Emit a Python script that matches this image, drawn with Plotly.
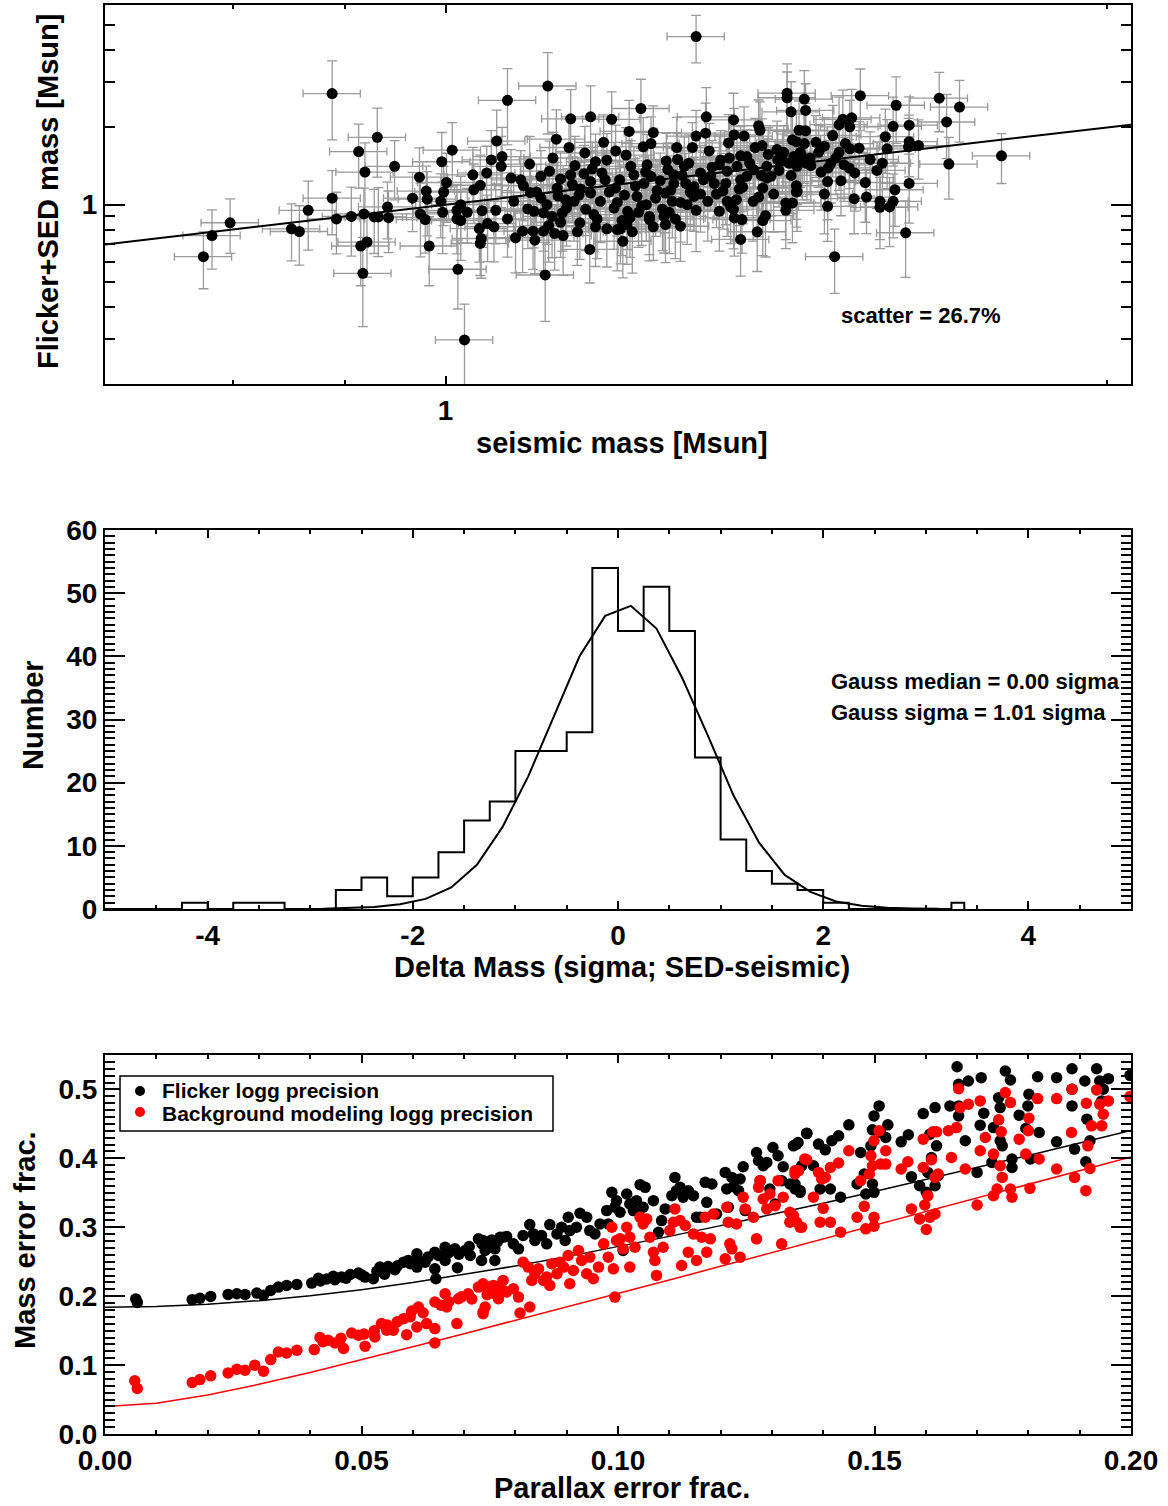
import numpy as np
import plotly.graph_objects as go

# ---------------- top panel: SED mass vs seismic mass ----------------
seismic_mass = [
    0.888, 0.931, 0.913, 0.919, 0.948, 0.888, 0.866, 0.892, 0.906, 0.918,
    0.928, 0.932, 0.941, 0.942, 0.851, 0.858, 0.798, 0.783, 0.776, 0.915,
    0.921, 0.917, 1.020, 0.966, 0.973, 0.980, 0.981, 0.974, 0.979, 0.983,
    0.996, 1.007, 1.001, 0.998, 0.995, 0.997, 1.012, 1.016, 1.012, 1.016,
    1.023, 1.013, 1.029, 1.030, 1.037, 1.044, 1.049, 1.055, 1.039, 1.036,
    1.038, 1.037, 1.045, 1.052, 1.054, 1.300, 1.113, 1.067, 1.140, 1.164,
    1.190, 1.227, 1.314, 1.352, 1.430, 1.430, 1.456, 1.436, 1.458, 1.388,
    1.390, 1.212, 1.243, 1.123, 1.180, 1.313, 1.300, 1.353, 1.367, 1.345,
    1.195, 1.208, 1.230, 1.240, 1.274, 1.295, 1.318, 1.383, 1.393, 1.415,
    1.438, 1.448, 1.458, 1.440, 1.061, 1.060, 1.092, 1.119, 1.138, 1.157,
    1.145, 1.170, 1.184, 1.115, 1.105, 1.071, 1.082, 1.085, 1.128, 1.140,
    1.156, 1.164, 1.178, 1.182, 1.195, 1.214, 1.218, 1.235, 1.231, 1.240,
    1.260, 1.275, 1.284, 1.290, 1.270, 1.286, 1.306, 1.320, 1.334, 1.343,
    1.357, 1.371, 1.362, 1.400, 1.406, 1.423, 1.445, 1.460, 1.394, 1.388,
    1.444, 1.445, 1.428, 1.428, 1.398, 1.394, 1.386, 1.362, 1.364, 1.353,
    1.343, 1.356, 1.348, 1.332, 1.328, 1.306, 1.297, 1.279, 1.268, 1.264,
    1.288, 1.279, 1.259, 1.243, 1.238, 1.234, 1.248, 1.224, 1.210, 1.222,
    1.197, 1.209, 1.216, 1.204, 1.201, 1.184, 1.170, 1.163, 1.168, 1.176,
    1.164, 1.152, 1.144, 1.151, 1.148, 1.134, 1.130, 1.128, 1.131, 1.121,
    1.108, 1.114, 1.098, 1.096, 1.084, 1.076, 1.110, 1.108, 1.097, 1.090,
    1.074, 1.067, 1.093, 1.105, 1.124, 1.197, 1.203, 1.238, 1.257, 1.259,
    1.270, 1.297, 1.325, 1.332, 1.341, 1.371, 1.360, 1.362, 1.381, 1.400,
    1.416, 1.433, 1.453, 1.544, 1.603, 1.677, 1.713, 1.690, 1.598, 1.625,
    1.585, 1.588, 1.625, 1.624, 1.641, 1.790, 1.694, 1.625, 1.601, 1.571,
    1.552, 1.554, 1.534, 1.576, 1.576, 1.592, 1.598, 1.619, 1.503, 1.513,
    1.492, 1.493, 1.487, 1.492, 1.510, 1.520, 1.527, 1.542, 1.500, 1.487,
    1.510, 1.516, 1.527, 1.530, 1.444, 1.456, 1.474, 1.453, 1.466, 1.497,
    1.518, 1.526, 1.444, 1.438,
    1.100, 1.112, 1.118, 1.125, 1.135, 1.142, 1.150, 1.158, 1.166, 1.172,
    1.187, 1.193, 1.200, 1.206, 1.213, 1.220, 1.228, 1.233, 1.246, 1.252,
    1.255, 1.262, 1.266, 1.272, 1.281, 1.292, 1.300, 1.310, 1.316, 1.322,
    1.337, 1.346, 1.352, 1.365, 1.375, 1.380, 1.392, 1.402, 1.410, 1.418,
    1.425, 1.436, 1.450, 1.465, 1.478, 1.482, 1.505, 1.535, 1.560, 1.580,
]
sed_mass = [
    2.71, 1.83, 1.61, 1.34, 1.41, 1.06, 0.95, 0.88, 0.90, 0.92,
    0.896, 0.896, 0.98, 0.89, 0.805, 0.786, 0.85, 0.758, 0.627, 0.69,
    0.715, 0.54, 0.297, 1.06, 1.28, 1.13, 1.05, 0.92, 0.875, 0.69,
    1.47, 1.63, 1.22, 1.12, 1.03, 0.934, 0.95, 1.0, 0.88, 0.867,
    0.934, 0.56, 1.307, 1.143, 1.19, 1.33, 1.494, 1.77, 0.947, 0.807,
    0.738, 0.706, 0.844, 0.82, 0.95, 4.52, 2.9, 2.55, 2.16, 2.2,
    2.15, 2.37, 2.2, 2.14, 2.72, 2.61, 2.58, 2.3, 2.33, 2.03,
    1.95, 1.93, 1.91, 1.8, 1.75, 1.9, 1.85, 1.87, 1.85, 1.74,
    1.62, 1.56, 1.68, 1.73, 1.67, 1.67, 1.62, 1.67, 1.70, 1.64,
    1.79, 1.95, 1.94, 1.54, 1.54, 1.41, 1.44, 1.52, 1.67, 1.59,
    1.42, 1.47, 1.49, 1.35, 1.29, 1.27, 1.25, 1.185, 1.26, 1.307,
    1.32, 1.23, 1.33, 1.25, 1.16, 1.41, 1.307, 1.43, 1.21, 1.29,
    1.48, 1.50, 1.41, 1.45, 1.307, 1.21, 1.33, 1.29, 1.494, 1.35,
    1.41, 1.54, 1.25, 1.41, 1.29, 1.494, 1.41, 1.45, 1.16, 1.07,
    1.185, 1.125, 1.015, 0.95, 0.906, 0.867, 0.784, 0.732, 0.875, 0.888,
    1.03, 1.046, 0.98, 0.942, 1.10, 1.10, 1.077, 1.02, 1.03, 0.934,
    1.0, 0.824, 0.837, 0.82, 0.875, 1.0, 1.136, 0.934, 0.942, 1.077,
    1.02, 0.837, 0.784, 0.72, 0.805, 0.805, 0.82, 0.669, 0.915, 1.03,
    1.11, 1.15, 1.03, 0.85, 0.784, 1.046, 0.928, 0.854, 0.758, 0.772,
    0.788, 0.829, 0.727, 0.788, 0.788, 0.743, 0.532, 0.928, 0.942, 0.962,
    1.03, 0.88, 1.115, 1.06, 1.16, 0.80, 0.867, 0.90, 0.90, 1.11,
    1.21, 1.177, 1.21, 1.43, 1.21, 1.29, 1.15, 1.55, 1.367, 1.27,
    1.494, 1.45, 1.54, 2.66, 2.44, 2.60, 2.40, 2.10, 2.02, 2.04,
    1.84, 1.65, 1.76, 1.68, 1.70, 1.55, 1.44, 1.21, 1.143, 1.36,
    1.22, 1.07, 1.055, 1.03, 0.976, 0.98, 1.03, 0.777, 0.627, 1.24,
    1.23, 1.39, 1.10, 0.985, 1.60, 1.73, 1.65, 1.66, 1.86, 1.69,
    2.05, 2.15, 2.01, 2.18, 1.76, 1.73, 1.75, 1.47, 1.42, 1.45,
    1.43, 1.39, 1.12, 1.015,
    1.12, 1.00, 0.90, 1.08, 0.97, 1.20, 1.09, 0.96, 1.38, 0.88,
    1.12, 0.97, 1.25, 1.09, 0.89, 1.18, 0.99, 1.34, 1.06, 1.24,
    0.96, 1.37, 1.14, 0.88, 1.30, 1.12, 0.95, 1.25, 1.03, 1.40,
    1.13, 1.52, 0.96, 1.17, 1.45, 1.03, 1.30, 1.57, 1.10, 1.36,
    1.60, 1.30, 1.60, 1.52, 1.60, 1.34, 1.52, 1.33, 1.50, 1.45,
]
sed_err_frac = [
    0.34, 0.30, 0.28, 0.30, 0.26, 0.28, 0.30, 0.27, 0.30, 0.26,
    0.28, 0.30, 0.25, 0.27, 0.25, 0.26, 0.24, 0.26, 0.25, 0.30,
    0.27, 0.38, 0.38, 0.26, 0.30, 0.25, 0.28, 0.32, 0.26, 0.30,
    0.30, 0.28, 0.30, 0.26, 0.28, 0.31, 0.26, 0.29, 0.27, 0.30,
    0.24, 0.30, 0.28, 0.26, 0.31, 0.27, 0.30, 0.32, 0.28, 0.26,
    0.30, 0.25, 0.29, 0.27, 0.26, 0.21, 0.35, 0.33, 0.30, 0.32,
    0.28, 0.30, 0.30, 0.27, 0.30, 0.26, 0.29, 0.31, 0.27, 0.26,
    0.29, 0.32, 0.27, 0.30, 0.28, 0.31, 0.26, 0.27, 0.30, 0.29,
    0.26, 0.28, 0.30, 0.27, 0.31, 0.25, 0.28, 0.30, 0.27, 0.29,
    0.27, 0.30, 0.28, 0.26, 0.30, 0.31, 0.28, 0.26, 0.29, 0.27,
    0.30, 0.28, 0.27, 0.31, 0.26, 0.29, 0.30, 0.27, 0.28, 0.26,
    0.29, 0.31, 0.27, 0.30, 0.28, 0.26, 0.29, 0.31, 0.27, 0.30,
    0.28, 0.26, 0.30, 0.29, 0.27, 0.31, 0.28, 0.26, 0.30, 0.27,
    0.29, 0.27, 0.31, 0.28, 0.30, 0.26, 0.29, 0.28, 0.27, 0.30,
    0.26, 0.30, 0.28, 0.29, 0.31, 0.27, 0.30, 0.28, 0.26, 0.29,
    0.27, 0.31, 0.28, 0.30, 0.26, 0.29, 0.27, 0.30, 0.28, 0.31,
    0.30, 0.27, 0.29, 0.26, 0.31, 0.28, 0.30, 0.27, 0.29, 0.28,
    0.26, 0.30, 0.31, 0.28, 0.27, 0.29, 0.30, 0.26, 0.28, 0.31,
    0.29, 0.27, 0.30, 0.28, 0.26, 0.31, 0.29, 0.27, 0.30, 0.28,
    0.30, 0.28, 0.26, 0.29, 0.31, 0.27, 0.34, 0.29, 0.28, 0.30,
    0.27, 0.29, 0.30, 0.28, 0.26, 0.31, 0.27, 0.29, 0.28, 0.30,
    0.28, 0.30, 0.27, 0.29, 0.31, 0.26, 0.28, 0.30, 0.27, 0.29,
    0.29, 0.28, 0.30, 0.27, 0.29, 0.26, 0.27, 0.28, 0.30, 0.29,
    0.28, 0.30, 0.27, 0.29, 0.26, 0.22, 0.27, 0.30, 0.28, 0.29,
    0.30, 0.28, 0.27, 0.29, 0.31, 0.30, 0.28, 0.33, 0.28, 0.27,
    0.29, 0.28, 0.30, 0.27, 0.29, 0.28, 0.30, 0.27, 0.31, 0.29,
    0.28, 0.30, 0.27, 0.29, 0.28, 0.30, 0.27, 0.29, 0.28, 0.30,
    0.28, 0.29, 0.27, 0.30,
    0.28, 0.30, 0.31, 0.27, 0.29, 0.28, 0.30, 0.31, 0.27, 0.30,
    0.29, 0.31, 0.27, 0.28, 0.30, 0.28, 0.30, 0.27, 0.29, 0.28,
    0.31, 0.27, 0.29, 0.30, 0.28, 0.29, 0.31, 0.28, 0.30, 0.27,
    0.29, 0.27, 0.30, 0.28, 0.27, 0.30, 0.28, 0.27, 0.29, 0.28,
    0.27, 0.29, 0.27, 0.28, 0.27, 0.29, 0.28, 0.29, 0.28, 0.28,
]
seismic_err_frac = 0.03
one_to_one = [0.7, 2.05]

# ---------------- middle panel: histogram of Delta mass ----------------
hist_lo = [-4.25, -4.0, -3.75, -3.5, -3.25, -3.0, -2.75, -2.5, -2.25, -2.0,
           -1.75, -1.5, -1.25, -1.0, -0.75, -0.5, -0.25, 0.0, 0.25, 0.5,
           0.75, 1.0, 1.25, 1.5, 1.75, 2.0, 2.25, 2.5, 2.75, 3.0, 3.25]
hist_counts = [1, 0, 1, 1, 0, 0, 3, 5, 2, 5,
               9, 14, 17, 25, 25, 28, 54, 44, 51, 44,
               24, 11, 6, 4, 3, 1, 0, 0, 0, 0, 1]
hist_width = 0.25
gauss_x = [-2.875, -2.625, -2.375, -2.125, -1.875, -1.625, -1.375, -1.125, -0.875,
           -0.625, -0.375, -0.125, 0.125, 0.375, 0.625, 0.875, 1.125, 1.375,
           1.625, 1.875, 2.125, 2.375, 2.625, 2.875, 3.125]
gauss_y = [0.05, 0.12, 0.3, 0.75, 1.6, 3.4, 7.0, 13.0, 21.0,
           30.5, 40.0, 46.4, 48.0, 44.4, 36.6, 27.5, 18.0, 10.5,
           5.4, 2.7, 1.2, 0.5, 0.2, 0.07, 0.02]
delta_ticks = [-4, -2, 0, 2, 4]
delta_ticktext = ["-4", "-2", "0", "2", "4"]

# ---------------- bottom panel: mass error vs parallax error ----------------
flicker_plx = [
    0.0060, 0.0063, 0.0170, 0.0185, 0.0206, 0.0240, 0.0257, 0.0273, 0.0296, 0.0309,
    0.0323, 0.0338, 0.0354, 0.0374, 0.0403, 0.0416, 0.0432, 0.0448, 0.0461, 0.0478,
    0.0494, 0.0507, 0.0523, 0.0536, 0.0552, 0.0565, 0.0582, 0.0591, 0.0608, 0.0608,
    0.0624, 0.0643, 0.0643, 0.0645, 0.0663, 0.0663, 0.0682, 0.0687, 0.0702, 0.0712,
    0.0728, 0.0741, 0.0754, 0.0760, 0.0776,
    0.0420, 0.0445, 0.0470, 0.0500, 0.0530, 0.0545, 0.0570, 0.0595, 0.0610, 0.0630,
    0.0650, 0.0670, 0.0690, 0.0710, 0.0735, 0.0750, 0.0765,
    0.0737, 0.0747, 0.0734, 0.0760, 0.0770, 0.0783, 0.0796, 0.0806, 0.0815, 0.0828,
    0.0835, 0.0838, 0.0851, 0.0861, 0.0867, 0.0881, 0.0890, 0.0897, 0.0903, 0.0906,
    0.0919, 0.0926, 0.0939, 0.0945, 0.0955, 0.0965, 0.0978, 0.0981, 0.0988, 0.0994,
    0.0997, 0.1004, 0.1010, 0.1017, 0.1023, 0.1030, 0.1036, 0.1049, 0.1043, 0.1053,
    0.1069, 0.1079, 0.1085, 0.1092, 0.1105, 0.1111, 0.1114, 0.1121, 0.1127, 0.1137,
    0.1147, 0.1153, 0.1160, 0.1170, 0.1173, 0.1183, 0.1192, 0.1209, 0.1212, 0.1215,
    0.1222, 0.1225, 0.1235, 0.1238, 0.1244, 0.1248, 0.1270, 0.1274, 0.1277, 0.1283,
    0.1290, 0.1296, 0.1302, 0.1306, 0.1312, 0.1319, 0.1322, 0.1342, 0.1345, 0.1351,
    0.1355, 0.1368, 0.1358,
    0.1335, 0.1345, 0.1355, 0.1348, 0.1368, 0.1381, 0.1394, 0.1391, 0.1404, 0.1414,
    0.1417, 0.1430, 0.1434, 0.1450, 0.1466, 0.1473, 0.1483, 0.1480, 0.1493, 0.1496,
    0.1499, 0.1496, 0.1499, 0.1509, 0.1512, 0.1522, 0.1526, 0.1552, 0.1566, 0.1572,
    0.1588, 0.1595, 0.1601, 0.1604, 0.1608, 0.1611, 0.1618, 0.1621, 0.1624, 0.1618,
    0.1647, 0.1661, 0.1664, 0.1664, 0.1664, 0.1677, 0.1683, 0.1700, 0.1706, 0.1708,
    0.1713, 0.1729, 0.1732, 0.1742, 0.1745, 0.1745, 0.1749, 0.1755, 0.1765, 0.1768,
    0.1768, 0.1782, 0.1801, 0.1799, 0.1795, 0.1804, 0.1818, 0.1821, 0.1855, 0.1855,
    0.1885, 0.1885, 0.1885, 0.1890, 0.1910, 0.1912, 0.1914, 0.1920, 0.1933, 0.1939,
    0.1946, 0.1943, 0.1956, 0.1998,
]
flicker_merr = [
    0.196, 0.191, 0.195, 0.197, 0.1997, 0.2026, 0.2036, 0.2026, 0.2045, 0.2012,
    0.2084, 0.2132, 0.2156, 0.2171, 0.219, 0.226, 0.225, 0.224, 0.228, 0.2315,
    0.2335, 0.2277, 0.2253, 0.2422, 0.2431, 0.2383, 0.2494, 0.2518, 0.2615, 0.2422,
    0.2494, 0.2638, 0.2397, 0.2253, 0.271, 0.2518, 0.2687, 0.2412, 0.2663, 0.259,
    0.2832, 0.2663, 0.2817, 0.2518, 0.2855,
    0.222, 0.229, 0.226, 0.231, 0.236, 0.232, 0.244, 0.247, 0.253, 0.257,
    0.259, 0.263, 0.261, 0.272, 0.276, 0.271, 0.279,
    0.2808, 0.2711, 0.2518, 0.2687, 0.2855, 0.2865, 0.276, 0.2687, 0.288, 0.3039,
    0.2904, 0.2808, 0.288, 0.276, 0.3039, 0.2904, 0.30, 0.2808, 0.3145, 0.2952,
    0.30, 0.3203, 0.3145, 0.2952, 0.2904, 0.3049, 0.3242, 0.3049, 0.3507, 0.329,
    0.3386, 0.3218, 0.2663, 0.3483, 0.3338, 0.3242, 0.3386, 0.329, 0.3618, 0.3579,
    0.3386, 0.2928, 0.3097, 0.3266, 0.3459, 0.3724, 0.3531, 0.3579, 0.3435, 0.3531,
    0.3459, 0.3145, 0.3145, 0.3652, 0.3362, 0.3628, 0.3194, 0.3796, 0.3556, 0.329,
    0.3724, 0.3589, 0.3531, 0.37, 0.3878, 0.3242, 0.4085, 0.3965, 0.3676, 0.3893,
    0.3941, 0.3556, 0.4158, 0.3338, 0.4038, 0.3676, 0.3878, 0.4182, 0.3628, 0.423,
    0.3531, 0.436, 0.3893,
    0.3628, 0.3556, 0.3507, 0.4207, 0.4366, 0.3893, 0.3556, 0.4207, 0.4124, 0.3556,
    0.4255, 0.4327, 0.3435, 0.4486, 0.3628, 0.4085, 0.3483, 0.3773, 0.4182, 0.4414,
    0.4616, 0.3628, 0.3507, 0.4761, 0.4375, 0.4303, 0.4486, 0.424, 0.4342, 0.3734,
    0.3603, 0.465, 0.3507, 0.3796, 0.4351, 0.4013, 0.3603, 0.4182, 0.3748, 0.4737,
    0.4761, 0.533, 0.5075, 0.4616, 0.4761, 0.4255, 0.5123, 0.3796, 0.4482, 0.5171,
    0.4655, 0.3941, 0.4447, 0.4881, 0.4255, 0.4737, 0.4182, 0.5268, 0.5137, 0.399,
    0.3868, 0.4627, 0.493, 0.4761, 0.4433, 0.399, 0.5185, 0.4375, 0.5171, 0.424,
    0.5301, 0.5003, 0.4761, 0.4135, 0.5123, 0.3951, 0.4569, 0.4255, 0.5301, 0.5123,
    0.5003, 0.4834, 0.5157, 0.5205,
]
bg_plx = [
    0.0058, 0.0063, 0.0170, 0.0185, 0.0206, 0.0240, 0.0257, 0.0273, 0.0292, 0.0309,
    0.0323, 0.0338, 0.0354, 0.0374, 0.0408, 0.0419, 0.0435, 0.0448, 0.0465, 0.0481,
    0.0494, 0.0507, 0.0526, 0.0539, 0.0549, 0.0562, 0.0582, 0.0588, 0.0598, 0.0611,
    0.0608, 0.0627, 0.0643, 0.0643, 0.0643, 0.0663, 0.0666, 0.0686, 0.0689, 0.0708,
    0.0728, 0.0737, 0.0747, 0.0757, 0.0776,
    0.0425, 0.0460, 0.0505, 0.0525, 0.0550, 0.0570, 0.0595, 0.0620, 0.0655, 0.0670,
    0.0695, 0.0715, 0.0745, 0.0765,
    0.0737, 0.0747, 0.0741, 0.0737, 0.0760, 0.0767, 0.0776, 0.0783, 0.0796, 0.0806,
    0.0809, 0.0815, 0.0825, 0.0828, 0.0832, 0.0838, 0.0845, 0.0855, 0.0861, 0.0867,
    0.0871, 0.0881, 0.0887, 0.0894, 0.0903, 0.0906, 0.0913, 0.0923, 0.0929, 0.0939,
    0.0945, 0.0952, 0.0962, 0.0972, 0.0981, 0.0988, 0.0991, 0.0994, 0.0997, 0.1004,
    0.1010, 0.1017, 0.1023, 0.1023, 0.1033, 0.1043, 0.1049, 0.1056, 0.1062, 0.1069,
    0.1072, 0.1075, 0.1088, 0.1101, 0.1108, 0.1111, 0.1121, 0.1124, 0.1131, 0.1137,
    0.1147, 0.1153, 0.1163, 0.1170, 0.1173, 0.1180, 0.1186, 0.1209, 0.1212, 0.1215,
    0.1218, 0.1222, 0.1231, 0.1238, 0.1244, 0.1248, 0.1264, 0.1270, 0.1274, 0.1277,
    0.1283, 0.1290, 0.1296, 0.1306, 0.1312, 0.1319, 0.1322, 0.1335, 0.1338, 0.1345,
    0.1355, 0.1364,
    0.1335, 0.1342, 0.1348, 0.1358, 0.1345, 0.1352, 0.1368, 0.1381, 0.1391, 0.1397,
    0.1400, 0.1394, 0.1414, 0.1404, 0.1414, 0.1430, 0.1434, 0.1450, 0.1466, 0.1473,
    0.1480, 0.1483, 0.1490, 0.1493, 0.1496, 0.1499, 0.1499, 0.1499, 0.1509, 0.1512,
    0.1522, 0.1522, 0.1552, 0.1565, 0.1572, 0.1588, 0.1595, 0.1595, 0.1598, 0.1601,
    0.1604, 0.1608, 0.1611, 0.1614, 0.1618, 0.1621, 0.1618, 0.1624, 0.1644, 0.1650,
    0.1660, 0.1664, 0.1667, 0.1677, 0.1683, 0.1700, 0.1706, 0.1706, 0.1716, 0.1732,
    0.1732, 0.1739, 0.1742, 0.1745, 0.1747, 0.1749, 0.1755, 0.1765, 0.1765, 0.1768,
    0.1782, 0.1795, 0.1801, 0.1800, 0.1803, 0.1818, 0.1821, 0.1855, 0.1855, 0.1884,
    0.1885, 0.1890, 0.1912, 0.1913, 0.1916, 0.1920, 0.1923, 0.1933, 0.1939, 0.1943,
    0.1946, 0.1956, 0.1998,
]
bg_merr = [
    0.0772, 0.066, 0.0748, 0.079, 0.0844, 0.0887, 0.094, 0.0926, 0.0999, 0.0912,
    0.108, 0.119, 0.1177, 0.1216, 0.1225, 0.14, 0.136, 0.1322, 0.124, 0.1466,
    0.1433, 0.1274, 0.1409, 0.1602, 0.1505, 0.1505, 0.1674, 0.1442, 0.1785, 0.1843,
    0.1553, 0.1602, 0.153, 0.1322, 0.1915, 0.2036, 0.1843, 0.1602, 0.1963, 0.2036,
    0.2132, 0.177, 0.2084, 0.2156, 0.2084,
    0.134, 0.139, 0.145, 0.150, 0.158, 0.163, 0.170, 0.176, 0.187, 0.192,
    0.199, 0.196, 0.202, 0.214,
    0.218, 0.2132, 0.1843, 0.1746, 0.2036, 0.1963, 0.2229, 0.206, 0.2108, 0.1987,
    0.1756, 0.2494, 0.2422, 0.1843, 0.2229, 0.2325, 0.2397, 0.2229, 0.2277, 0.2156,
    0.247, 0.2325, 0.2494, 0.2422, 0.259, 0.218, 0.2373, 0.2663, 0.2518, 0.2325,
    0.2566, 0.2253, 0.2422, 0.276, 0.2566, 0.30, 0.2397, 0.1987, 0.2808, 0.2832,
    0.2687, 0.30, 0.2855, 0.2422, 0.271, 0.3145, 0.3049, 0.3121, 0.2855, 0.2638,
    0.2518, 0.2301, 0.271, 0.2952, 0.3073, 0.3266, 0.3097, 0.2446, 0.3025, 0.2638,
    0.2904, 0.2518, 0.2855, 0.3145, 0.2638, 0.2832, 0.3194, 0.2542, 0.329, 0.3073,
    0.276, 0.2687, 0.3049, 0.2566, 0.3435, 0.3266, 0.3145, 0.2832, 0.3579, 0.3676,
    0.341, 0.3266, 0.3483, 0.3314, 0.3676, 0.276, 0.3435, 0.3073, 0.3194, 0.3821,
    0.30, 0.399,
    0.3218, 0.3169, 0.3073, 0.30, 0.3773, 0.3821, 0.398, 0.3435, 0.3796, 0.37,
    0.3275, 0.3073, 0.3073, 0.3724, 0.3868, 0.3932, 0.2928, 0.411, 0.3145, 0.3676,
    0.3304, 0.2977, 0.3773, 0.4038, 0.3893, 0.4255, 0.3145, 0.3015, 0.44, 0.3917,
    0.411, 0.3917, 0.3845, 0.3951, 0.3266, 0.3121, 0.3868, 0.4279, 0.3324, 0.2967,
    0.3459, 0.3145, 0.398, 0.4385, 0.3724, 0.4385, 0.3194, 0.3773, 0.44, 0.4013,
    0.4447, 0.5012, 0.4737, 0.3845, 0.4786, 0.3324, 0.411, 0.4834, 0.4303, 0.4062,
    0.3459, 0.3556, 0.4559, 0.3893, 0.4385, 0.3724, 0.4954, 0.4809, 0.3556, 0.3435,
    0.4279, 0.4062, 0.4583, 0.44, 0.3565, 0.4867, 0.399, 0.4867, 0.3845, 0.4375,
    0.5003, 0.3724, 0.3531, 0.48, 0.4182, 0.3854, 0.4472, 0.4993, 0.4786, 0.4472,
    0.4641, 0.4834, 0.4896,
]
model_plx = [0.00, 0.01, 0.02, 0.03, 0.04, 0.05, 0.06, 0.07, 0.08, 0.09, 0.10,
             0.11, 0.12, 0.13, 0.14, 0.15, 0.16, 0.17, 0.18, 0.19, 0.20]
model_flicker = [0.184, 0.1851, 0.1883, 0.1935, 0.2006, 0.2094, 0.2197, 0.2312, 0.2438,
                 0.2574, 0.2718, 0.2868, 0.3024, 0.3185, 0.3350, 0.3519, 0.3691,
                 0.3866, 0.4043, 0.4222, 0.4403]
model_bg = [0.040, 0.0447, 0.0566, 0.0721, 0.0894, 0.1077, 0.1265, 0.1456, 0.1649,
            0.1844, 0.2040, 0.2236, 0.2433, 0.2631, 0.2828, 0.3027, 0.3225, 0.3423,
            0.3622, 0.3821, 0.4020]

# ---------------- figure ----------------
W, H = 1168, 1506
FONT = "Liberation Sans"
ERR_GREY = "#9a9a9a"


def fx(p):
    return p / W


def fy(p):
    return 1 - p / H


fig = go.Figure()

sx = np.array(seismic_mass)
sy = np.array(sed_mass)
fig.add_trace(go.Scatter(
    x=sx, y=sy, mode="markers", xaxis="x", yaxis="y",
    marker=dict(size=11, color="rgba(0,0,0,0)"),
    error_x=dict(type="data", array=sx * seismic_err_frac, color=ERR_GREY, thickness=1.3, width=4),
    error_y=dict(type="data", array=sy * np.array(sed_err_frac), color=ERR_GREY, thickness=1.3, width=5),
    showlegend=False, hoverinfo="skip"))
fig.add_trace(go.Scatter(x=one_to_one, y=one_to_one, mode="lines", xaxis="x", yaxis="y",
                         line=dict(color="black", width=2), showlegend=False))
fig.add_trace(go.Scatter(x=sx, y=sy, mode="markers", xaxis="x", yaxis="y",
                         marker=dict(size=11, color="black"), showlegend=False))

# histogram as steps
step_x = [-5.0] + list(hist_lo) + [hist_lo[-1] + hist_width / 2, hist_lo[-1] + hist_width / 2]
step_y = [0] + list(hist_counts) + [hist_counts[-1], 0]
fig.add_trace(go.Scatter(x=step_x, y=step_y, mode="lines", line_shape="hv", xaxis="x2", yaxis="y2",
                         line=dict(color="black", width=2), showlegend=False))
fig.add_trace(go.Scatter(x=gauss_x, y=gauss_y, mode="lines", xaxis="x2", yaxis="y2",
                         line=dict(color="black", width=2), showlegend=False))

# bottom
fig.add_trace(go.Scatter(x=model_plx, y=model_flicker, mode="lines", xaxis="x3", yaxis="y3",
                         line=dict(color="black", width=1.5), showlegend=False))
fig.add_trace(go.Scatter(x=model_plx, y=model_bg, mode="lines", xaxis="x3", yaxis="y3",
                         line=dict(color="red", width=1.5), showlegend=False))
fig.add_trace(go.Scatter(x=flicker_plx, y=flicker_merr, mode="markers", xaxis="x3", yaxis="y3",
                         marker=dict(size=11.5, color="black"), name="Flicker logg precision",
                         showlegend=False))
fig.add_trace(go.Scatter(x=bg_plx, y=bg_merr, mode="markers", xaxis="x3", yaxis="y3",
                         marker=dict(size=11.5, color="red"), name="Background modeling logg precision",
                         showlegend=False))

tickfont = dict(family=FONT, size=28, color="black", weight="bold")
base = dict(showline=True, linecolor="black", linewidth=2, mirror="allticks",
            ticks="inside", tickcolor="black", tickwidth=2, showgrid=False, zeroline=False,
            tickfont=tickfont, automargin=False)
xdom = [fx(105), fx(1131)]


def xax(**kw):
    d = dict(base)
    d.update(ticklen=8, domain=xdom)
    d.update(kw)
    return d


def yax(**kw):
    d = dict(base)
    d.update(ticklen=20, domain=[0, 1])
    d.update(kw)
    return d


xminor = dict(ticks="inside", ticklen=4, tickwidth=1.5, tickcolor="black", showgrid=False)
yminor = dict(ticks="inside", ticklen=10, tickwidth=1.5, tickcolor="black", showgrid=False)

fig.update_layout(
    width=W, height=H, margin=dict(l=0, r=0, t=0, b=0, autoexpand=False),
    paper_bgcolor="white", plot_bgcolor="white",
    font=dict(family=FONT, color="black"),
    xaxis=xax(type="log", range=[np.log10(0.7), np.log10(2.05)], anchor="y",
              tickmode="array", tickvals=[1], ticktext=["1"],
              minor=dict(xminor, tickmode="array", tickvals=[0.8, 0.9, 2])),
    yaxis=yax(type="log", range=[np.log10(0.2), np.log10(6)], anchor="x",
              domain=[fy(384), fy(5)], tickmode="array", tickvals=[1], ticktext=["1"],
              minor=dict(yminor, tickmode="array",
                         tickvals=[0.3, 0.4, 0.5, 0.6, 0.7, 0.8, 0.9, 2, 3, 4, 5])),
    xaxis2=xax(range=[-5, 5], anchor="y2", tickmode="array", tickvals=delta_ticks,
               ticktext=delta_ticktext, minor=dict(xminor, tick0=0, dtick=0.5)),
    yaxis2=yax(range=[0, 60], anchor="x2", domain=[fy(909), fy(530)], tick0=0, dtick=10,
               minor=dict(yminor, dtick=1)),
    xaxis3=xax(range=[0, 0.2], anchor="y3", tick0=0, dtick=0.05, tickformat=".2f",
               minor=dict(xminor, dtick=0.01)),
    yaxis3=yax(range=[0, 0.55], anchor="x3", domain=[fy(1434), fy(1055)], tick0=0, dtick=0.1,
               tickformat=".1f", minor=dict(yminor, dtick=0.01)),
)

title_font = dict(family=FONT, size=29, color="black", weight="bold")
ann_font = dict(family=FONT, size=22, color="black", weight="bold")
leg_font = dict(family=FONT, size=21, color="black", weight="bold")
annotations = [
    dict(text="seismic mass [Msun]", x=fx(622), y=fy(443), font=title_font),
    dict(text="Flicker+SED mass [Msun]", x=fx(48), y=fy(192), textangle=-90, font=title_font),
    dict(text="Delta Mass (sigma; SED-seismic)", x=fx(622), y=fy(967), font=title_font),
    dict(text="Number", x=fx(33), y=fy(715), textangle=-90, font=title_font),
    dict(text="Parallax error frac.", x=fx(622), y=fy(1488), font=title_font),
    dict(text="Mass error frac.", x=fx(25), y=fy(1240), textangle=-90, font=title_font),
    dict(text="scatter = 26.7%", x=fx(839), y=fy(315), xanchor="left", font=ann_font),
    dict(text="Gauss median = 0.00 sigma", x=fx(829), y=fy(681), xanchor="left", font=ann_font),
    dict(text="Gauss sigma = 1.01 sigma", x=fx(829), y=fy(712), xanchor="left", font=ann_font),
    dict(text="Flicker logg precision", x=fx(160), y=fy(1090), xanchor="left", font=leg_font),
    dict(text="Background modeling logg precision", x=fx(160), y=fy(1113), xanchor="left", font=leg_font),
]
for a in annotations:
    a.setdefault("xanchor", "center")
    a.update(xref="paper", yref="paper", yanchor="middle", showarrow=False)
fig.update_layout(annotations=annotations)

shapes = [
    dict(type="rect", xref="paper", yref="paper", x0=fx(120), x1=fx(553), y0=fy(1131), y1=fy(1076),
         line=dict(color="black", width=1.5), fillcolor="white", layer="above"),
]
for cy, col in [(1091, "black"), (1112, "red")]:
    shapes.append(dict(type="circle", xref="paper", yref="paper", xsizemode="pixel", ysizemode="pixel",
                       xanchor=fx(140), yanchor=fy(cy), x0=-5, x1=5, y0=-5, y1=5,
                       fillcolor=col, line=dict(color=col, width=0), layer="above"))
fig.update_layout(shapes=shapes)

fig.write_html("out.html", config={"displayModeBar": False},
               post_script="document.body.style.margin='0px';")
